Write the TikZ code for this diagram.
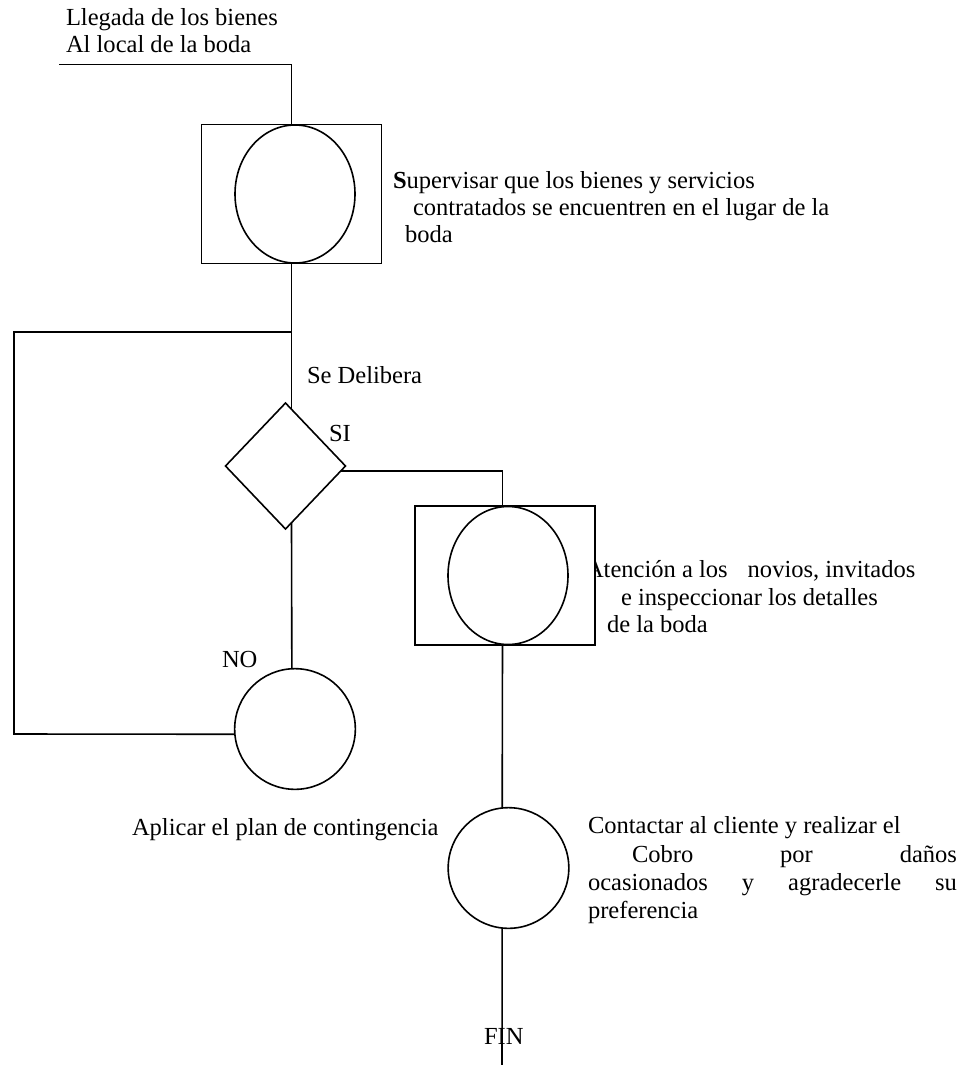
\documentclass[tikz,border=0pt]{standalone}
\usepackage{fontspec}
\setmainfont{Liberation Serif}
\usetikzlibrary{shapes.geometric,calc}
\begin{document}
\begin{tikzpicture}[x=0.75pt,y=-0.75pt,
  lbl/.style={anchor=base west, inner sep=0pt, outer sep=0pt, font=\fontsize{18.4pt}{21pt}\selectfont},
  boxnode/.style={draw, rectangle, line width=1.2pt, inner sep=0pt, outer sep=0pt, fill=white, minimum width=135pt, minimum height=104pt},
  ovalnode/.style={draw, ellipse, line width=1.2pt, inner sep=0pt, outer sep=0pt, minimum width=90pt, minimum height=103.5pt},
  circnode/.style={draw, circle, line width=1.2pt, inner sep=0pt, outer sep=0pt, minimum size=90.5pt},
  decnode/.style={draw, diamond, line width=1.2pt, inner sep=0pt, outer sep=0pt, minimum width=90pt, minimum height=94.5pt},
  conn/.style={line width=1.2pt}
]
\useasboundingbox (0,0) rectangle (960,1065);

% texts
\node[lbl] (t1a) at (66,25) {Llegada de los bienes};
\node[lbl] (t1b) at (66,52.7) {Al local de la boda};
\node[lbl] (t2a) at (393,188) {\textbf{S}upervisar que los bienes y servicios};
\node[lbl] (t2b) at (413,215) {contratados se encuentren en el lugar de la};
\node[lbl] (t2c) at (405,242) {boda};
\node[lbl] (t3) at (307,383) {Se Delibera};
\node[lbl] (tsi) at (329,441) {SI};
\node[lbl] (t4a) at (586,577) {Atención a los\hspace{15pt}novios, invitados};
\node[lbl] (t4b) at (621,605) {e inspeccionar los detalles};
\node[lbl] (t4c) at (607,632) {de la boda};
\node[lbl] (tno) at (222,667) {NO};
\node[lbl] (t5) at (132,835) {Aplicar el plan de contingencia};
\node[lbl] (t6a) at (588,833) {Contactar al cliente y realizar el};
\node[lbl] (t6b) at (588,862) {\hbox to 276.75pt{\hspace*{33pt}Cobro\hfill por\hfill daños}};
\node[lbl] (t6c) at (588,890) {\hbox to 276.75pt{ocasionados\hfill y\hfill agradecerle\hfill su}};
\node[lbl] (t6d) at (588,918) {preferencia};
\node[lbl] (tfin) at (484,1044) {FIN};

% shapes
\node[boxnode] (r1) at (291.5,194) {};
\node[ovalnode] (e1) at (295,194) {};
\node[decnode] (d) at (285.5,466) {};
\node[boxnode] (r2) at (505,575.5) {};
\node[ovalnode] (e2) at (508,575.5) {};
\node[circnode] (c1) at (295,729) {};
\node[circnode] (c2) at (508.5,868) {};

% coordinates
\coordinate (s) at (59,64.5);
\coordinate (j1) at (291.5,332);
\coordinate (k1) at (14,332);
\coordinate (k2) at (14,734);
\coordinate (fin) at (502,1065);

% connectors
\draw[conn] (s) -| (r1.north);
\draw[conn] (r1.south) -- ($(d.north)+(6,6.3)$);
\draw[conn] (j1) -- (k1) -- (k2) -- (c1.185);
\draw[conn] ($(d.south)+(6,-6.3)$) -- (c1.93);
\draw[conn] ($(d.east)+(-4.8,5)$) -| ($(r2.north)+(-2.5,0)$);
\draw[conn] ($(r2.south)+(-2.5,0)$) -- (c2.96);
\draw[conn] (c2.264) -- (fin);
\end{tikzpicture}
\end{document}
